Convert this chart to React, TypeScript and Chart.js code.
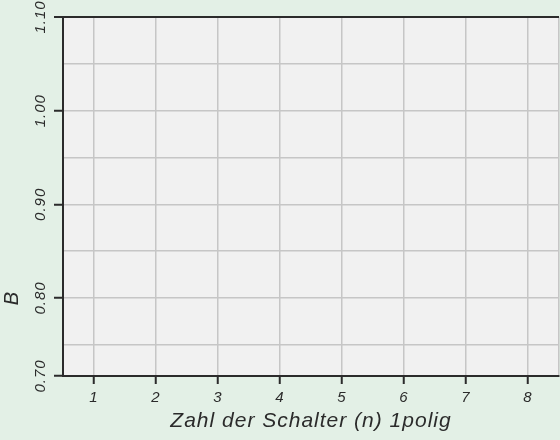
import React, { useEffect, useRef } from "react";
import { Chart, registerables } from "chart.js";

Chart.register(...registerables);

// ---- data ----
const xTicks: number[] = [1, 2, 3, 4, 5, 6, 7, 8];
const xMin = 0.5;
const xMax = 8.5;
const yLabeled: number[] = [0.8, 0.9, 1.0, 1.1];
const yMinor: number[] = [0.75, 0.85, 0.95, 1.05];
const yMin = 0.7167;
const yMinLabel = "0.70";
const yMax = 1.1;
const xTitle = "Zahl der Schalter (n) 1polig";
const yTitle = "B";
const yTitleAt = 0.8;
const seriesB: { x: number; y: number }[] = [];

const FONT = "'Liberation Sans', Arial, sans-serif";
const DARK = "#2b2b2b";
const GRID = "#c6c6c6";
const PAGE_BG = "#e3f0e6";
const PLOT_BG = "#f1f1f1";

const isLabeledY = (v: number) => yLabeled.some((t) => Math.abs(t - v) < 1e-6) || Math.abs(v - yMin) < 1e-6;
const isIntX = (v: number) => xTicks.some((t) => Math.abs(t - v) < 1e-6);

const bgPlugin = {
  id: "plotBg",
  beforeDraw(chart: any) {
    const { ctx, chartArea } = chart;
    ctx.save();
    ctx.fillStyle = PLOT_BG;
    ctx.fillRect(chartArea.left, chartArea.top, chartArea.right - chartArea.left, chartArea.bottom - chartArea.top);
    ctx.restore();
    (ctx as any).letterSpacing = "1px";
  },
  afterDraw(chart: any) {
    const { ctx, scales } = chart;
    const y = scales.y;
    ctx.save();
    ctx.fillStyle = DARK;
    ctx.font = `italic 20px ${FONT}`;
    ctx.textAlign = "center";
    ctx.textBaseline = "middle";
    ctx.translate(12, y.getPixelForValue(yTitleAt));
    ctx.rotate(-Math.PI / 2);
    ctx.fillText(yTitle, 0, 0);
    ctx.restore();
    (ctx as any).letterSpacing = "0px";
  },
};

export default function App() {
  const ref = useRef<HTMLCanvasElement | null>(null);
  useEffect(() => {
    if (!ref.current) return;
    const chart = new Chart(ref.current, {
      type: "scatter",
      data: { datasets: [{ data: seriesB, showLine: false }] },
      options: {
        animation: false,
        responsive: false,
        layout: { padding: { top: 17, right: 1, left: 0, bottom: 0 } },
        plugins: { legend: { display: false }, tooltip: { enabled: false } },
        scales: {
          x: {
            type: "linear",
            min: xMin,
            max: xMax,
            afterBuildTicks: (scale: any) => {
              scale.ticks = [xMin, ...xTicks, xMax].map((v) => ({ value: v }));
            },
            afterFit: (scale: any) => {
              scale.height = 64;
              scale.paddingLeft = 0;
              scale.paddingRight = 0;
            },
            border: { display: true, color: DARK, width: 2 },
            grid: {
              color: (c: any) => (Math.abs(c.tick.value - xMin) < 1e-6 ? "transparent" : GRID),
              lineWidth: 1.5,
              tickLength: 8,
              tickColor: (c: any) => (isIntX(c.tick.value) ? DARK : "transparent"),
              tickWidth: 2,
            },
            ticks: {
              autoSkip: false,
              maxRotation: 0,
              minRotation: 0,
              padding: 5,
              color: DARK,
              font: { family: FONT, size: 15, style: "italic" },
              callback: (v: any) => (isIntX(Number(v)) ? String(Math.round(Number(v))) : ""),
            },
            title: {
              display: true,
              text: xTitle,
              color: DARK,
              font: { family: FONT, size: 21, style: "italic" },
              padding: { top: 0, bottom: 6 },
            },
          },
          y: {
            type: "linear",
            min: yMin,
            max: yMax,
            afterBuildTicks: (scale: any) => {
              const vals = [yMin, ...yMinor, ...yLabeled].sort((a, b) => a - b);
              scale.ticks = vals.map((v) => ({ value: v }));
            },
            afterFit: (scale: any) => {
              scale.width = 63;
              scale.paddingTop = 0;
              scale.paddingBottom = 0;
            },
            border: { display: true, color: DARK, width: 2 },
            grid: {
              color: (c: any) => {
                const v = c.tick.value;
                if (Math.abs(v - yMin) < 1e-6) return "transparent";
                if (Math.abs(v - yMax) < 1e-6) return DARK;
                return GRID;
              },
              lineWidth: (c: any) => (Math.abs(c.tick.value - yMax) < 1e-6 ? 2 : 1.5),
              tickLength: 9,
              tickColor: (c: any) => (isLabeledY(c.tick.value) ? DARK : "transparent"),
              tickWidth: 2,
            },
            ticks: {
              autoSkip: false,
              minRotation: 90,
              maxRotation: 90,
              crossAlign: "center",
              padding: -1,
              color: DARK,
              font: { family: FONT, size: 15, style: "italic" },
              callback: (v: any) => {
                const n = Number(v);
                if (Math.abs(n - yMin) < 1e-6) return yMinLabel;
                if (yLabeled.some((t) => Math.abs(t - n) < 1e-6)) return n.toFixed(2);
                return "";
              },
            },
          },
        },
      },
      plugins: [bgPlugin],
    });
    return () => chart.destroy();
  }, []);
  return (
    <div style={{ position: "fixed", left: 0, top: 0, width: 560, height: 440, background: PAGE_BG }}>
      <canvas ref={ref} width={560} height={440} style={{ display: "block" }} />
    </div>
  );
}
